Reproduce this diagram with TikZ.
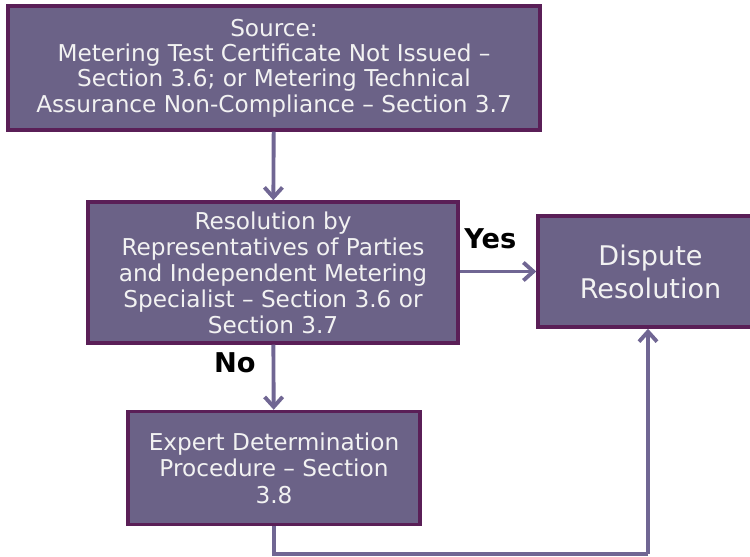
\documentclass[tikz,border=0pt]{standalone}
\usepackage{fontspec}
\setmainfont{DejaVu Sans}
\usetikzlibrary{arrows.meta}
\definecolor{boxfill}{HTML}{6B6287}
\definecolor{boxline}{HTML}{5A1F57}
\definecolor{flowline}{HTML}{706693}
\definecolor{boxtext}{HTML}{F2F2F2}

\begin{document}
\begin{tikzpicture}[x=0.02cm, y=-0.02cm, ->, >={Straight Barb[length=2mm, width=3.6mm]},
  every edge/.style={draw=flowline, line width=2.2pt},
  block/.style={rectangle, draw=boxline, fill=boxfill, line width=2pt, text=boxtext,
    align=center, font=\fontsize{13.2}{14.4}\selectfont, inner sep=0pt},
  answer/.style={font=\fontsize{15.5}{16}\selectfont\bfseries, text=black}]
\useasboundingbox (0,0) rectangle (750,557);
\node[block, minimum width=10.64cm, minimum height=2.48cm] (src) at (274,68)
  {Source:\\Metering Test Certificate Not Issued --\\Section 3.6; or Metering Technical\\Assurance Non-Compliance -- Section 3.7};
\node[block, minimum width=7.4cm, minimum height=2.82cm, font=\fontsize{13.2}{14.8}\selectfont] (res) at (273,272.5)
  {Resolution by\\Representatives of Parties\\and Independent Metering\\Specialist -- Section 3.6 or\\Section 3.7};
\node[block, minimum width=4.5cm, minimum height=2.22cm, font=\fontsize{15.4}{18.8}\selectfont] (disp) at (650.5,271.5)
  {Dispute\\Resolution};
\node[block, minimum width=5.84cm, minimum height=2.26cm, font=\fontsize{13.2}{15}\selectfont] (exp) at (274,468)
  {Expert Determination\\Procedure -- Section\\3.8};
\coordinate (turn) at (648,554);
\path (src) edge (res);
\path (res) edge node [answer, pos=.27, left=2mm] {No} (exp);
\path (res.east |- disp) edge node [answer, above=2.9mm, pos=.4] {Yes} (disp);
\draw[-, draw=flowline, line width=2.2pt] (exp.south) |- (turn);
\path (turn) edge (turn |- disp.south);
\end{tikzpicture}
\end{document}
